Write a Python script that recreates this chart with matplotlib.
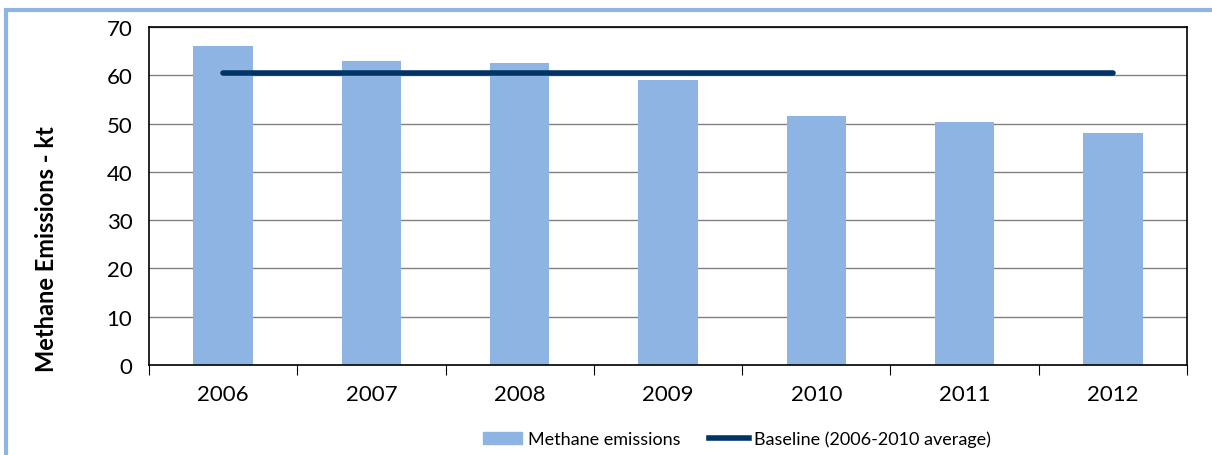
import matplotlib.pyplot as plt
from matplotlib.patches import Rectangle
from matplotlib.lines import Line2D
from matplotlib.patches import Patch

plt.rcParams['font.family'] = ['Lato', 'DejaVu Sans']

# Data
years = ['2006', '2007', '2008', '2009', '2010', '2011', '2012']
emissions = [66.0, 63.0, 62.5, 59.0, 51.5, 50.3, 48.1]
baseline = [60.4] * len(years)

fig = plt.figure(figsize=(12.12, 4.56), dpi=100)

# light blue outer frame (only top and left visible)
fig.patches.append(Rectangle((6 / 1212, -0.1), 1.2, (456 - 11) / 456 + 0.1,
                             transform=fig.transFigure, fill=False,
                             edgecolor='#8EB4E3', linewidth=3))

ax = fig.add_axes([149 / 1212, (456 - 366) / 456, (1187 - 149) / 1212, (366 - 28) / 456])

x = list(range(len(years)))
ax.bar(x, emissions, width=0.4, color='#8EB4E3', zorder=2, label='Methane emissions')
ax.plot(x, baseline, color='#003366', linewidth=4, solid_capstyle='round', zorder=3,
        label='Baseline (2006-2010 average)')

ax.set_xlim(-0.5, len(years) - 0.5)
ax.set_ylim(0, 70)
ax.set_yticks(range(0, 71, 10))
ax.yaxis.grid(True, color='#808080', linewidth=1, zorder=1)
ax.tick_params(axis='y', length=0, labelsize=16, pad=12)

# category labels between boundary ticks
ax.set_xticks([i - 0.5 for i in range(len(years) + 1)])
ax.set_xticklabels([])
ax.set_xticks(x, minor=True)
ax.set_xticklabels(years, minor=True, fontsize=16)
ax.tick_params(axis='x', which='major', length=7, direction='out', color='black')
ax.tick_params(axis='x', which='minor', length=0, pad=14)

for s in ax.spines.values():
    s.set_color('black')
    s.set_linewidth(1.2)

ax.set_ylabel('Methane Emissions - kt', fontsize=17, fontweight='bold')
ax.yaxis.set_label_coords(-0.088, 0.345)

handles = [Patch(color='#8EB4E3'),
           Line2D([0], [0], color='#003366', linewidth=4)]
fig.legend(handles, ['Methane emissions', 'Baseline (2006-2010 average)'],
           loc='center', bbox_to_anchor=(0.608, 1 - 440 / 456), ncol=2, frameon=False,
           fontsize=13, handlelength=2.2, handletextpad=0.3, columnspacing=1.6)

fig.savefig('out.png', dpi=100)
